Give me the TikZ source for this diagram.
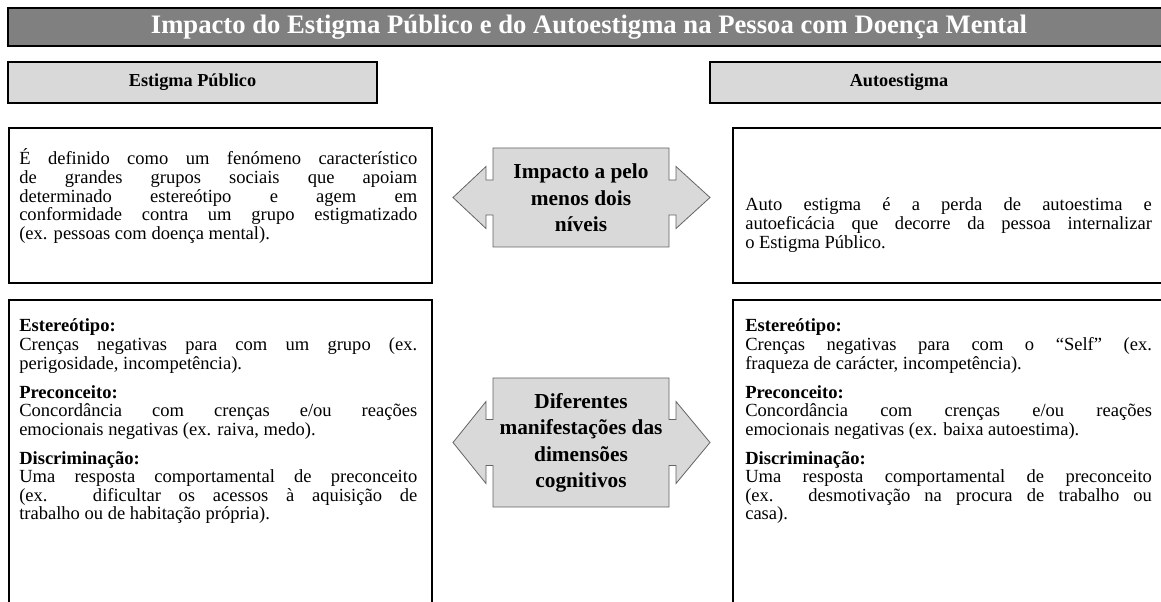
\documentclass[tikz,border=0pt]{standalone}
\usepackage{fontspec}
\setmainfont{Liberation Serif}
\usetikzlibrary{positioning}
\definecolor{titlegray}{RGB}{128,128,128}
\definecolor{headgray}{RGB}{217,217,217}
\definecolor{arrowline}{RGB}{100,100,100}
\tikzset{titlebar/.style = {draw, line width=1.6pt, fill=titlegray, text=white,
                            font=\fontsize{20}{22}\selectfont\bfseries,
                            minimum height=28.5pt, inner sep=0}}
\tikzset{headbox/.style = {draw, line width=1.6pt, fill=headgray,
                           minimum height=30.75pt, inner sep=0}}
\tikzset{headtext/.style = {inner sep=0, font=\fontsize{13.7}{16}\selectfont\bfseries}}
\tikzset{textbox/.style = {draw, line width=1.6pt, inner sep=0}}
\tikzset{bodytext/.style = {anchor=base west, inner sep=0,
                            font=\fontsize{13.9}{13.9}\selectfont}}
\tikzset{arrowshape/.style = {draw=arrowline, line width=0.6pt, fill=headgray}}
\tikzset{arrowtext/.style = {align=center, inner sep=0,
                             font=\fontsize{16}{19.8}\selectfont\bfseries}}
\newcommand{\secgap}{7.9pt}

\begin{document}
\begin{tikzpicture}[x=0.75pt, y=-0.75pt]
  \useasboundingbox (0,0) rectangle (1161,602);
  % titulo e cabecalhos
  \node [titlebar, minimum width=871.5pt] (title) at (589,27)
        {Impacto do Estigma Público e do Autoestigma na Pessoa com Doença Mental};
  \node [headbox, headtext, minimum width=276.75pt] (headL) at (192.5,82.5) {Estigma Público};
  \node [headbox, minimum width=345pt] (headR) at (940,82.5) {};
  \node [headtext] (headRtext) at (899,82.5) {Autoestigma};
  % caixas
  \node [textbox, minimum width=317.25pt, minimum height=116.25pt] (defL) at (220.5,205.5) {};
  \node [textbox, minimum width=327.75pt, minimum height=116.25pt] (defR) at (951.5,205.5) {};
  \node [textbox, minimum width=317.25pt, minimum height=240pt] (dimL) at (220.5,460) {};
  \node [textbox, minimum width=327.75pt, minimum height=240pt] (dimR) at (951.5,460) {};
  \node [bodytext] (defLtext) at (19,165) {\parbox[t]{298.5pt}{%
    É definido como um fenómeno característico\linebreak
    de grandes grupos sociais que apoiam\linebreak
    determinado estereótipo e agem em\linebreak
    conformidade contra um grupo estigmatizado\linebreak
    (ex. pessoas com doença mental).}};
  \node [bodytext] (defRtext) at (745,211) {\parbox[t]{305pt}{%
    Auto estigma é a perda de autoestima e\linebreak
    autoeficácia que decorre da pessoa internalizar\linebreak
    o Estigma Público.}};
  \node [bodytext] (dimLtext) at (19,332) {\parbox[t]{298.5pt}{%
    \textbf{Estereótipo:}\\
    Crenças negativas para com um grupo (ex.\linebreak
    perigosidade, incompetência).\\[\secgap]
    \textbf{Preconceito:}\\
    Concordância com crenças e/ou reações\linebreak
    emocionais negativas (ex. raiva, medo).\\[\secgap]
    \textbf{Discriminação:}\\
    Uma resposta comportamental de preconceito\linebreak
    (ex. dificultar os acessos à aquisição de\linebreak
    trabalho ou de habitação própria).}};
  \node [bodytext] (dimRtext) at (745,332) {\parbox[t]{305pt}{%
    \textbf{Estereótipo:}\\
    Crenças negativas para com o ``Self'' (ex.\linebreak
    fraqueza de carácter, incompetência).\\[\secgap]
    \textbf{Preconceito:}\\
    Concordância com crenças e/ou reações\linebreak
    emocionais negativas (ex. baixa autoestima).\\[\secgap]
    \textbf{Discriminação:}\\
    Uma resposta comportamental de preconceito\linebreak
    (ex. desmotivação na procura de trabalho ou\linebreak
    casa).}};
  % setas duplas
  \foreach \cy/\bh/\sh/\hh in {197.5/49.5/17.5/31, 442.5/64.5/23/41}{
    \draw [arrowshape] (493,\cy-\bh) -- (669,\cy-\bh) -- (669,\cy-\sh) -- (676,\cy-\sh)
          -- (676,\cy-\hh) -- (710,\cy) -- (676,\cy+\hh) -- (676,\cy+\sh) -- (669,\cy+\sh)
          -- (669,\cy+\bh) -- (493,\cy+\bh) -- (493,\cy+\sh) -- (486,\cy+\sh)
          -- (486,\cy+\hh) -- (453,\cy) -- (486,\cy-\hh) -- (486,\cy-\sh) -- (493,\cy-\sh) -- cycle;
  }
  \node [arrowtext] (impacto) at (581,198) {Impacto a pelo\\menos dois\\níveis};
  \node [arrowtext] (manif) at (581,443) {Diferentes\\manifestações das\\dimensões\\cognitivos};
\end{tikzpicture}
\end{document}
